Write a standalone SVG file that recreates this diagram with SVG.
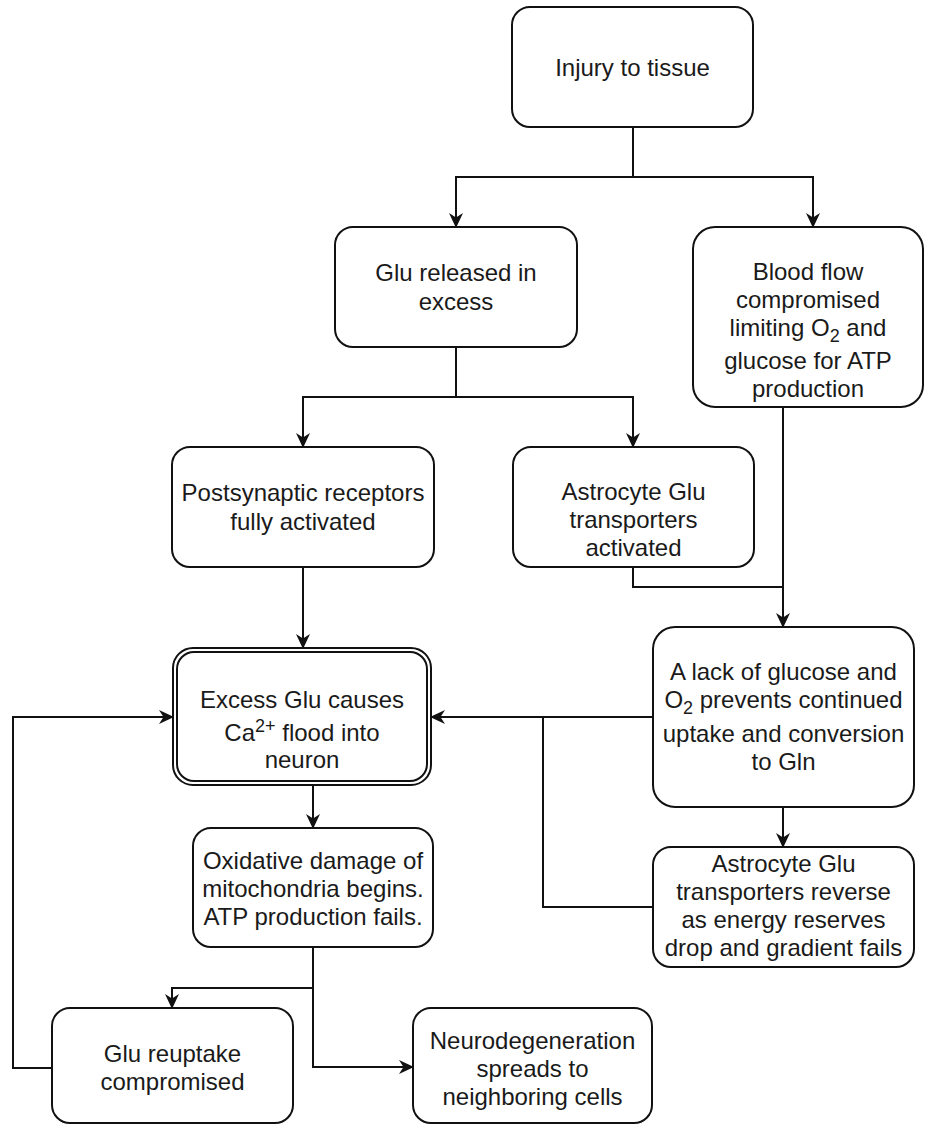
<svg xmlns="http://www.w3.org/2000/svg" width="925" height="1126" viewBox="0 0 925 1126">
<style>
.box{fill:#fff;stroke:#111;stroke-width:2}
.t{font-family:"Liberation Sans",Arial,sans-serif;font-size:24px;fill:#1a1a1a;text-anchor:middle}
.c{fill:none;stroke:#111;stroke-width:2}
</style>
<defs>
<marker id="ah" viewBox="0 0 15 14" refX="14" refY="7" markerWidth="15" markerHeight="14" markerUnits="userSpaceOnUse" orient="auto">
<path d="M0,0 L15,7 L0,14 L4.5,7 Z" fill="#111"/>
</marker>
</defs>
<rect width="925" height="1126" fill="#fff"/>
<g id="connectors">
<path class="c" d="M633,127 V177 H456 V227" marker-end="url(#ah)"/>
<path class="c" d="M633,177 H813 V227" marker-end="url(#ah)"/>
<path class="c" d="M456,347 V397 H303 V447" marker-end="url(#ah)"/>
<path class="c" d="M456,397 H633 V447" marker-end="url(#ah)"/>
<path class="c" d="M303,567 V648" marker-end="url(#ah)"/>
<path class="c" d="M783,407 V627" marker-end="url(#ah)"/>
<path class="c" d="M633,567 V587 H783"/>
<path class="c" d="M653,717 H431" marker-end="url(#ah)"/>
<path class="c" d="M653,907 H543 V717"/>
<path class="c" d="M783,807 V847" marker-end="url(#ah)"/>
<path class="c" d="M313,785 V828" marker-end="url(#ah)"/>
<path class="c" d="M313,947 V988 H172 V1008" marker-end="url(#ah)"/>
<path class="c" d="M313,988 V1067 H413" marker-end="url(#ah)"/>
<path class="c" d="M52,1068 H13 V717 H173" marker-end="url(#ah)"/>
</g>
<g id="injury">
<rect class="box" x="512" y="7" width="241" height="120" rx="18"/>
<text class="t" x="632.5" y="76">Injury to tissue</text>
</g>
<g id="glu-released">
<rect class="box" x="335" y="227" width="242" height="120" rx="18"/>
<text class="t" x="456" y="281">Glu released in</text>
<text class="t" x="456" y="310">excess</text>
</g>
<g id="blood-flow">
<rect class="box" x="693" y="227" width="230" height="180" rx="22"/>
<text class="t" x="808" y="280">Blood flow</text>
<text class="t" x="808" y="308">compromised</text>
<text class="t" x="808" y="336">limiting O<tspan font-size="18" dy="6">2</tspan><tspan dy="-6"> and</tspan></text>
<text class="t" x="808" y="369">glucose for ATP</text>
<text class="t" x="808" y="397">production</text>
</g>
<g id="postsynaptic">
<rect class="box" x="172" y="447" width="262" height="120" rx="18"/>
<text class="t" x="303" y="501">Postsynaptic receptors</text>
<text class="t" x="303" y="530">fully activated</text>
</g>
<g id="astro-activated">
<rect class="box" x="513" y="447" width="241" height="120" rx="18"/>
<text class="t" x="633.5" y="500">Astrocyte Glu</text>
<text class="t" x="633.5" y="528">transporters</text>
<text class="t" x="633.5" y="556">activated</text>
</g>
<g id="lack">
<rect class="box" x="653" y="627" width="261" height="180" rx="22"/>
<text class="t" x="783.5" y="680">A lack of glucose and</text>
<text class="t" x="783.5" y="708">O<tspan font-size="18" dy="6">2</tspan><tspan dy="-6"> prevents continued</tspan></text>
<text class="t" x="783.5" y="742">uptake and conversion</text>
<text class="t" x="783.5" y="770">to Gln</text>
</g>
<g id="astro-reverse">
<rect class="box" x="653" y="847" width="261" height="120" rx="18"/>
<text class="t" x="783.5" y="872">Astrocyte Glu</text>
<text class="t" x="783.5" y="900">transporters reverse</text>
<text class="t" x="783.5" y="928">as energy reserves</text>
<text class="t" x="783.5" y="956">drop and gradient fails</text>
</g>
<g id="excess">
<rect class="box" x="173" y="648" width="258" height="137" rx="20"/>
<rect class="box" x="177" y="652" width="250" height="129" rx="17"/>
<text class="t" x="302" y="708">Excess Glu causes</text>
<text class="t" x="302" y="741">Ca<tspan font-size="18" dy="-9">2+</tspan><tspan dy="9"> flood into</tspan></text>
<text class="t" x="302" y="768">neuron</text>
</g>
<g id="oxidative">
<rect class="box" x="193" y="828" width="240" height="119" rx="18"/>
<text class="t" x="313" y="869">Oxidative damage of</text>
<text class="t" x="313" y="897">mitochondria begins.</text>
<text class="t" x="313" y="925">ATP production fails.</text>
</g>
<g id="reuptake">
<rect class="box" x="52" y="1008" width="241" height="115" rx="18"/>
<text class="t" x="172.5" y="1062">Glu reuptake</text>
<text class="t" x="172.5" y="1090">compromised</text>
</g>
<g id="neurodegeneration">
<rect class="box" x="413" y="1008" width="239" height="115" rx="18"/>
<text class="t" x="532.5" y="1049">Neurodegeneration</text>
<text class="t" x="532.5" y="1077">spreads to</text>
<text class="t" x="532.5" y="1105">neighboring cells</text>
</g>
</svg>
